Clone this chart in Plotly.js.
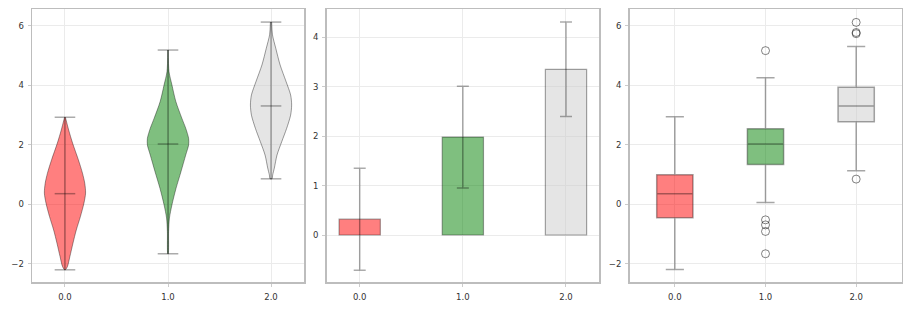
<!DOCTYPE html>
<html>
<head>
<meta charset="utf-8">
<script src="https://cdn.plot.ly/plotly-3.0.1.min.js"></script>
<style>html,body{margin:0;padding:0;background:#fff;}#chart{width:911px;height:311px;}</style>
</head>
<body>
<div id="chart"></div>
<script>
// ---- data ----
const groups = [0, 1, 2];
const tickLabels = ["0.0", "1.0", "2.0"];
const fills = ["rgba(255,0,0,0.5)", "rgba(0,128,0,0.5)", "rgba(204,204,204,0.5)"];

// violin outlines: y levels and relative density (0..1)
const violin0Y = [2.93, 2.50, 2.06, 1.50, 1.05, 0.71, 0.38, 0.04, -0.41, -0.86, -1.30, -1.75, -2.09, -2.20];
const violin0D = [0.02, 0.18, 0.37, 0.65, 0.85, 0.96, 1.00, 0.92, 0.75, 0.55, 0.39, 0.24, 0.12, 0.02];
const violin1Y = [5.19, 4.46, 4.02, 3.46, 2.90, 2.56, 2.22, 2.00, 1.66, 1.10, 0.54, -0.02, -0.46, -0.91, -1.66];
const violin1D = [0.01, 0.05, 0.19, 0.38, 0.67, 0.86, 1.00, 1.00, 0.86, 0.63, 0.39, 0.19, 0.07, 0.03, 0.01];
const violin2Y = [6.13, 5.70, 5.25, 4.69, 4.13, 3.68, 3.34, 3.00, 2.56, 2.11, 1.66, 1.22, 0.99, 0.86];
const violin2D = [0.03, 0.07, 0.23, 0.44, 0.73, 0.95, 1.00, 0.95, 0.76, 0.52, 0.29, 0.16, 0.08, 0.05];
const violinMin = [-2.20, -1.66, 0.86];
const violinMax = [2.93, 5.19, 6.13];
const violinMedian = [0.36, 2.03, 3.31];

// bar panel: means and standard deviations
const barMeans = [0.32, 1.98, 3.35];
const barErrors = [1.03, 1.03, 0.955];

// box panel statistics
const boxQ1 = [-0.45, 1.34, 2.78];
const boxMedian = [0.36, 2.03, 3.31];
const boxQ3 = [1.00, 2.54, 3.94];
const boxLow = [-2.19, 0.06, 1.13];
const boxHigh = [2.95, 4.26, 5.31];
const outlierX = [1, 1, 1, 1, 1, 2, 2, 2, 2];
const outlierY = [5.17, -0.52, -0.69, -0.91, -1.66, 6.12, 5.78, 5.74, 0.85];

// ---- styles ----
const HALF = 0.2;      // max violin half-width
const CAP = 0.1;       // cap half-width
const lineCol = "rgba(0,0,0,0.33)";

const traces = [];
const violinY = [violin0Y, violin1Y, violin2Y];
const violinD = [violin0D, violin1D, violin2D];

groups.forEach((g, i) => {
  const ys = violinY[i], ds = violinD[i];
  const xs = ys.map((y, k) => g + HALF * ds[k]);
  const xl = ys.map((y, k) => g - HALF * ds[k]).reverse();
  traces.push({
    type: "scatter", mode: "lines", xaxis: "x", yaxis: "y",
    x: xs.concat(xl), y: ys.concat(ys.slice().reverse()),
    fill: "toself", fillcolor: fills[i],
    line: {color: "rgba(0,0,0,0.55)", width: 0.7, shape: "spline", smoothing: 0.8},
    hoverinfo: "skip", showlegend: false
  });
  traces.push({
    type: "scatter", mode: "lines", xaxis: "x", yaxis: "y",
    x: [g, g], y: [violinMin[i], violinMax[i]],
    line: {color: lineCol, width: 1.5}, hoverinfo: "skip", showlegend: false
  });
  [violinMin[i], violinMax[i], violinMedian[i]].forEach(v => {
    traces.push({
      type: "scatter", mode: "lines", xaxis: "x", yaxis: "y",
      x: [g - CAP, g + CAP], y: [v, v],
      line: {color: lineCol, width: 1.5}, hoverinfo: "skip", showlegend: false
    });
  });
});

// bar panel
traces.push({
  type: "bar", xaxis: "x2", yaxis: "y2",
  x: groups, y: barMeans, width: 0.4,
  marker: {color: fills, line: {color: "rgba(0,0,0,0.35)", width: 1.2}},
  error_y: {type: "data", array: barErrors, visible: true, color: "rgba(0,0,0,0.33)", thickness: 1.5, width: 6},
  hoverinfo: "skip", showlegend: false
});

// box panel
groups.forEach((g, i) => {
  traces.push({
    type: "box", xaxis: "x3", yaxis: "y3",
    x: [g], q1: [boxQ1[i]], median: [boxMedian[i]], q3: [boxQ3[i]],
    lowerfence: [boxLow[i]], upperfence: [boxHigh[i]],
    width: 0.4, whiskerwidth: 0.5, boxpoints: false,
    fillcolor: fills[i], line: {color: "rgba(0,0,0,0.35)", width: 1.5},
    hoverinfo: "skip", showlegend: false
  });
});
traces.push({
  type: "scatter", mode: "markers", xaxis: "x3", yaxis: "y3",
  x: outlierX, y: outlierY,
  marker: {symbol: "circle-open", size: 8, color: "rgba(0,0,0,0.55)", line: {width: 0.9}},
  hoverinfo: "skip", showlegend: false
});

const W = 911, H = 311;
const yDom = [1 - 282 / H, 1 - 9 / H];
function xa(dom, range) {
  return {
    domain: [dom[0] / W, dom[1] / W], range: range,
    tickmode: "array", tickvals: groups, ticktext: tickLabels,
    showline: true, mirror: true, linecolor: "#bdbdbd", linewidth: 1.5,
    ticks: "outside", ticklen: 3, tickcolor: "#cccccc", tickwidth: 1,
    ticklabelstandoff: 3,
    showgrid: true, gridcolor: "#ebebeb", gridwidth: 1, zeroline: false,
    tickfont: {family: "DejaVu Sans", size: 8.5, color: "#333"}
  };
}
function ya(range, dtick) {
  return {
    domain: yDom, range: range, dtick: dtick,
    showline: true, mirror: true, linecolor: "#bdbdbd", linewidth: 1.5,
    ticks: "outside", ticklen: 3, tickcolor: "#cccccc", tickwidth: 1,
    ticklabelstandoff: 2,
    showgrid: true, gridcolor: "#ebebeb", gridwidth: 1, zeroline: false,
    tickfont: {family: "DejaVu Sans", size: 8.5, color: "#333"}
  };
}

const layout = {
  width: W, height: H,
  margin: {l: 0, r: 0, t: 0, b: 0},
  paper_bgcolor: "#fff", plot_bgcolor: "#fff",
  showlegend: false,
  xaxis: xa([32, 304], [-0.32, 2.32]),
  yaxis: ya([-2.61, 6.57], 2),
  xaxis2: Object.assign(xa([326.7, 599], [-0.32, 2.32]), {anchor: "y2"}),
  yaxis2: Object.assign(ya([-0.95, 4.57], 1), {anchor: "x2"}),
  xaxis3: Object.assign(xa([629.5, 901.5], [-0.5, 2.5]), {anchor: "y3"}),
  yaxis3: Object.assign(ya([-2.61, 6.57], 2), {anchor: "x3"}),
  bargap: 0
};
layout.xaxis.anchor = "y";
layout.yaxis.anchor = "x";

Plotly.newPlot("chart", traces, layout, {staticPlot: true, displayModeBar: false});
</script>
</body>
</html>
